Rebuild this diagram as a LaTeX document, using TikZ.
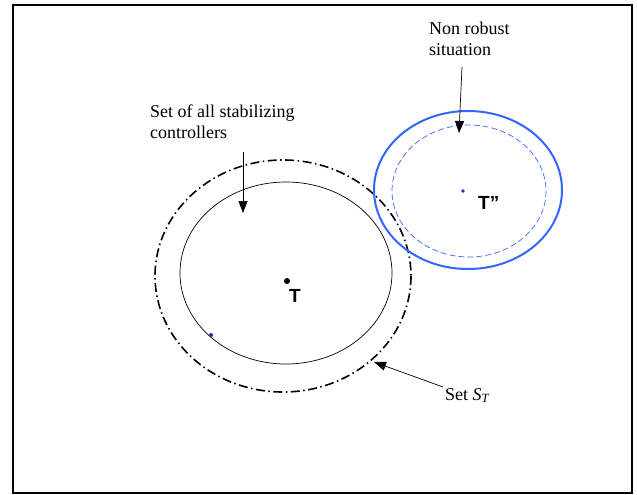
\documentclass[tikz,border=0pt]{standalone}
\usepackage{fontspec}
\setmainfont{Liberation Serif}
\newfontfamily\labelsans{Liberation Sans}
\usetikzlibrary{arrows.meta}
\definecolor{setblue}{RGB}{51,102,255}
\definecolor{dotblue}{RGB}{30,50,160}
\tikzset{
  note/.style={font=\fontsize{18}{20.5}\selectfont, align=left, inner sep=0pt},
  pointer/.style={-{Triangle[length=12pt,width=9pt]}, line width=0.7pt},
  ptlabel/.style={font=\labelsans\bfseries\fontsize{19}{20}\selectfont, inner sep=0pt},
}
\begin{document}
\begin{tikzpicture}[x=1pt,y=-1pt]
\useasboundingbox (0,0) rectangle (637,495);
% outer frame
\draw[line width=2pt] (13,5) rectangle (632,493);

% set S_T (dash-dot) and the stabilizing set (solid)
\draw[line width=1.6pt, dash pattern=on 9pt off 3.5pt on 1.5pt off 3.5pt] (283,276) ellipse [x radius=128, y radius=116];
\draw[line width=0.7pt] (286,273) ellipse [x radius=106, y radius=91];

% non robust region
\draw[setblue, line width=2pt] (468,190) ellipse [x radius=94, y radius=79];
\draw[setblue, line width=0.7pt, dash pattern=on 6pt off 3pt] (469,191) ellipse [x radius=77, y radius=66];

% points
\fill (287,281) circle (3pt);
\node[ptlabel, anchor=north west] (tlab) at (289,289) {T};
\fill[dotblue] (463,191) circle (1.8pt);
\node[ptlabel, anchor=north west] (tpp) at (478,196) {T”};
\fill[dotblue] (211,335) circle (2pt);

% annotations
\node[note, anchor=north west] (nonrob) at (429,22) {Non robust\\situation};
\coordinate (nrtail) at (462,67);
\coordinate (nrtip) at (459,133);
\draw[pointer] (nrtail) -- (nrtip);

\node[note, anchor=north west] (stab) at (150,105) {Set of all stabilizing\\controllers};
\coordinate (sttail) at (243,152);
\coordinate (sttip) at (243,213);
\draw[pointer] (sttail) -- (sttip);

\node[note, anchor=north west] (sett) at (445,388) {Set \textit{S}\textsubscript{\textit{T}}};
\coordinate (settail) at (443,387);
\coordinate (settip) at (374,362);
\draw[pointer] (settail) -- (settip);
\end{tikzpicture}
\end{document}
